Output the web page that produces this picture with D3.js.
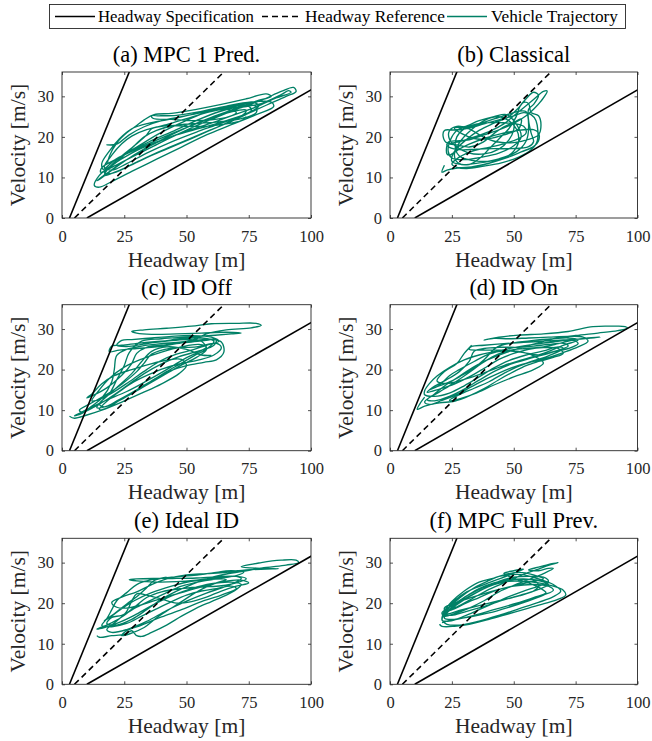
<!DOCTYPE html>
<html>
<head>
<meta charset="utf-8">
<script src="https://cdn.jsdelivr.net/npm/d3@7"></script>
</head>
<body style="margin:0;background:#fff">
<script>
// tick labels and axis ranges
var xTicks = [0, 25, 50, 75, 100];
var yTicks = [0, 10, 20, 30];
var xDomain = [0, 100];
var yDomain = [0, 36];

// headway = gap + timeGap * velocity
var specGap = [3, 10];
var specTime = [0.667, 2.85];
var refGap = [5];
var refTime = [1.667];
var speedRange = [0, 40];

var titles = ["(a) MPC 1 Pred.", "(b) Classical", "(c) ID Off", "(d) ID On", "(e) Ideal ID", "(f) MPC Full Prev."];
var legendNames = ["Headway Specification", "Headway Reference", "Vehicle Trajectory"];

// vehicle trajectories, [headway m, velocity m/s]
var trajA = [[20,18],[18,18],[22,18.2],[27,20.5],[33,22.5],[40,24],[48,25],[56,26],[64,27],[71,27.8],[77,28.5],[79,27.6],[75,26],[66,24],[56,22.2],[46,20.5],[37,18.5],[28,16],[20,13],[15,10.5],[13,8],[15,7.6],[20,9],[28,11.5],[38,14.5],[48,17.5],[58,20.5],[68,23],[78,25.5],[85,27.5],[84,28.6],[76,28.6],[66,27.6],[56,26.3],[46,25.3],[39,25.2],[36,25.2],[36.5,24.6],[44,24.3],[52,24],[60,24.2],[67,25],[70,26],[66,26.8],[57,25.8],[48,23.5],[39,20.8],[30,17.5],[22,14.6],[16,12.4],[15.5,11.3],[20,12.5],[28,15],[37,17.8],[47,20.8],[58,23.8],[70,26.8],[80,29],[88,31.2],[93,32.2],[94,31.2],[90,30],[82,27.8],[72,25],[62,22.3],[52,19.6],[42,17],[33,14.6],[26,12.5],[20,11],[17,11.2],[22,13.8],[28,17.2],[33,20],[38,21.6],[45,22.8],[54,23.3],[63,23.7],[72,24.5],[78,26],[78,27.5],[72,27.8],[62,26.8],[52,25.5],[43,24.3],[35,23.4],[28,22],[23,19.5],[19,16.5],[16,13.5],[16.5,12],[21,14.2],[27,16.3],[35,18.8],[45,21.5],[55,24.3],[63,26.2],[70,27.3],[75,27.5],[76,26.5],[70,24.4],[60,21.8],[50,19.2],[40,16.6],[30,13.8],[22,11.5],[17,10.5],[19,12.5],[24,15.3],[30,18.3],[34,20.5],[36,22],[42,23],[50,24.5],[58,26],[66,27],[74,27.5],[80,28.2],[88,30.4],[91,31.4],
  [92,31],[86,29.6],[78,27.4],[68,25.2],[58,23],[48,21],[38,18.6],[29,15.6],[21,12.2],[15,9.5],[14,9.2],[18,11],[24,13.6],[31,16.2],[40,19.3],[50,22.3],[60,24.8],[70,27],[78,28.8],[84,30],[82,30.6],[74,29.4],[64,28],[54,26.8],[44,25.8],[37,25.5],[33,24.2],[30,22.8],[26,21],[22,18.5],[19,15.2],[18.5,13.5],[23,15],[30,17],[38,19.2],[48,21.8],[58,24.2],[68,26.2],[74,26.6],[73,25.6],[64,23.4],[54,21.2],[44,18.8],[34,16],[26,13.4],[20,11.8],[17,12.5],[20,15.5],[24,18.3],[28,20.2],[34,21.8],[42,22.8],[50,22.6],[58,22.6],[66,23.2],[72,24],[74,25]];

var trajB = [[22,13],[21,11.3],[23,11.8],[28,12.4],[33,12.6],[40,13.5],[47,14.8],[53,16.3],[58,17.6],[60,19],[60,21],[58,21.8],[52,21.6],[45,20.8],[38,19.6],[32,18.2],[28,17],[24,15.5],[23,15.8],[23.5,18.7],[26,19],[32,19.3],[38,20.5],[44,21.7],[50,23.3],[55,25.2],[58,26.8],[61,28.8],[63.5,31.3],[62,31.2],[58,29.2],[54,27.2],[50,25.2],[46,23.2],[40,21.3],[33,19.8],[27,18.7],[23,18.5],[21.5,20],[22,21.6],[26,21.7],[32,22.2],[38,23.2],[44,24.2],[50,25.2],[54,26],[57,25.5],[59,24],[59.5,19],[57,16.8],[52,15],[45,13.6],[38,12.8],[31,12.2],[27,12.5],[25,13.3],[28,15],[34,16.6],[40,17.4],[46,18.3],[52,19.6],[55,21],[54,22.6],[48,23.4],[40,23.5],[34,23],[30,22],[27,20],[26.5,17],[28,15.3],[33,14.2],[40,14],[46,14.8],[50,16.5],[52,19],[51,22],[48,24],[44,25],[39,24.3],[33,21.8],[28,18.5],[26,15.6],[27.5,13.6],[32,13.2],[36,14.6],[40,17],[44,19.5],[48,22],[51,25],[52.5,27.5],[55,29.4],[58,31],[60,30.3],[58,28],[56,26.8],[56,24],[57,21],[58,18.8],[56,17.6],[49,17.1],[42,17.1],[35,17],[29,16.8],[24,17.4],[23,18.2],[27,18],[32,17.5],[37,18.5],[42,20.8],[46,22.5],[50,23.6],[53,24.4],[52,22],[46,20.5],[40,19.6],[34,19.6],[29,20.8],[26,22.2],
  [30,22.5],[36,24],[42,25],[47,25.5],[50,24],[53,20],[50,17.8],[44,16],[37,15],[30,14.4],[25,14.8],[23.5,16.5],[25,20],[28,22],[33,22.6],[40,24],[46,25.2],[52,26.3],[55,26.2],[56,23],[55,19],[51,16.3],[44,14.6],[36,13.6],[29,13.2],[25,14],[26,16.4],[31,19.4],[36,21.6],[42,23.4],[48,25],[52,27.2],[54,28.5],[56,28.2],[57,26],[60,25.2],[61,23],[60,20.5],[56,19.4],[50,18.6],[43,18.8],[37,20.2],[32,22],[27,22.6],[24,21.5],[24,19.5],[27,17.5],[32,16],[38,15.8],[44,17],[48,19.2],[50,21.8],[50,24.5]];

var trajC = [[3,8.5],[5,8],[10,8.8],[16,10],[24,12],[32,14.2],[40,16.5],[47,19],[50,21],[48,22.5],[42,22.3],[35,21.3],[28,20],[21,18.5],[16,16.5],[12,14],[10,13],[12,13.5],[18,15.5],[24,18.6],[28,21.5],[30,24],[34,25.5],[40,26],[46,26.5],[52,26.8],[58,27.2],[62,27.5],[61,26],[55,24.6],[47,23.2],[40,21.4],[33,19],[26,16],[19,13],[13,10.8],[8,9.5],[7,10],[11,11.5],[17,13.5],[24,16.4],[30,19.5],[33,21.6],[36,23.8],[44,25.3],[54,25.6],[62,26.5],[64,25.4],[61,23.6],[55,22.4],[48,21.5],[41,20.3],[35,18.8],[29,17],[24,15],[19,12.7],[15,10.2],[18,10.5],[24,12.8],[30,15],[36,17.2],[42,19.5],[48,21.6],[53,23.4],[58,25],[61,27],[56,27.8],[48,27.6],[40,27],[32,26.6],[24,26],[20,25.8],[19,24.4],[23,24.8],[30,25.2],[38,25.6],[46,26.4],[54,27.2],[60,27.5],[64,26.8],[65,24.3],[62,22.4],[57,21.8],[50,21],[44,19.8],[37,17.6],[30,15],[23,12.6],[17,10.8],[15,11.5],[19,14],[22,17.5],[25,21],[27,24.2],[32,27],[40,27.6],[50,28],[60,28.4],[68,28.8],[72,29],[66,29.2],[56,29],[46,28.8],[36,28.7],[30,29],[28,29.4],[33,29.8],[42,30.2],[52,30.7],[60,31.3],[70,31.4],[78,31.4],[80,30.9],[76,30.3],[66,29.8],[58,28.8],[54,27.6],
  [48,26.8],[40,26.4],[32,25.8],[26,25],[22,23.5],[21,20],[20,17],[16,13],[12,11],[8,9.2],[5,8.6],[7,9.2],[12,10.8],[18,12.5],[26,14.6],[34,17.2],[42,20],[49,22.6],[55,24.4],[58,25.6],[55,26.2],[48,25.6],[40,24.3],[32,22.6],[25,20.6],[19,17.8],[15,15],[12,12.3],[14,12.4],[20,14.2],[27,17],[34,20],[40,22.3],[46,23.8],[52,24.8],[58,26],[63,27],[60,28],[52,28.4],[44,28.2],[36,27.8],[28,27.4],[24,27.2],[22,26],[26,25.7],[34,26.4],[42,27],[50,27.4],[56,27],[58,25],[54,23],[47,20.8],[40,18.3],[32,15.5],[25,13],[19,11.2],[14,10.6],[16,12.3],[22,15.6],[28,19],[32,22],[36,24.5],[42,25.6],[50,25],[56,23.6],[60,23.5]];

var trajD = [[14,13.2],[12,11.5],[11,10.2],[14,11],[20,11.8],[26,12.2],[32,13.5],[38,15.3],[44,17.5],[50,19.5],[55,21],[60,22],[66,23],[70,24],[68,25.2],[62,25.4],[56,25],[50,24],[44,22.5],[38,20.3],[32,18.2],[26,16.4],[20,15.2],[15,14.4],[17,15.5],[22,17.2],[28,19.5],[32,22],[34,24.5],[38,25.2],[45,25.5],[52,25.5],[58,25.8],[64,26.2],[70,26.5],[72,25.8],[66,24.4],[58,23],[50,21.6],[43,19.8],[36,17.4],[30,15.2],[24,13.4],[18,12.3],[15,12.6],[20,14.5],[26,16.8],[32,19.3],[37,21.5],[42,23.3],[48,24.7],[55,25.2],[62,25.6],[68,26.4],[74,27.3],[80,27.8],[85,28],[78,27.6],[70,27.3],[62,27],[54,26.7],[46,26.4],[38,26],[33,25.7],[32,25],[36,24.8],[44,24.8],[52,24.5],[58,23.4],[62,21.6],[58,20],[50,18.2],[42,16.2],[34,14],[27,12.6],[24,12.4],[28,13.8],[34,15.4],[40,17],[47,19.4],[54,21.3],[62,22.6],[70,24.2],[76,25.6],[80,27],[78,28],[72,28.2],[64,28],[56,27.8],[48,27.6],[42,27.7],[38,27.3],[44,28],[52,28.5],[62,28.8],[72,29.4],[82,30.6],[90,30.7],[95,30.6],[96,30.2],[92,29.6],[84,29],[75,28.4],[66,27.6],[60,26.6],[54,25.6],[46,24],[38,22],[31,19.6],[25,17.2],[19,15.8],[16,15],[20,16.2],[24,18.5],[28,20],
  [34,22],[40,23.8],[46,24.6],[54,24.2],[60,23.6],[66,24.4],[72,25.2],[76,26.4],[74,27.2],[66,26.8],[58,26.2],[50,25.4],[42,24.4],[36,23.6],[30,22.4],[24,20.5],[19,18.4],[16,16.6],[14,14.8],[14,13.8],[18,13.4],[24,14.2],[30,16],[36,18.2],[42,20.4],[48,22.2],[55,23.6],[62,24.6],[68,25.6],[70,25.2],[64,23.4],[56,21.8],[48,20.2],[40,18],[33,15.8],[27,13.8],[21,12.4],[16,11.4],[14,12],[18,14],[23,16.4],[28,18.2],[33,20],[38,22.4],[42,25],[45,26],[50,26.6],[58,27.2],[66,27.6],[72,27.8],[76,27.3],[70,26],[62,24],[54,22.5],[46,21],[38,19.2],[30,17.6],[23,16.6],[19,17.2],[22,19.5],[27,21.5],[30,24],[33,26]];

var trajE = [[14,12],[15,11.6],[20,12],[25,12.3],[28,13.2],[30,12],[32,11.8],[36,12.8],[42,14.6],[48,16.8],[54,18.8],[60,20.4],[66,22],[70,23.4],[72,24.6],[68,25.2],[60,24.8],[52,23.6],[44,21.8],[36,19.4],[29,17],[22,15],[17,14],[14,13.6],[18,14.6],[24,16.6],[30,19.5],[34,21.4],[40,22.8],[48,23.6],[56,24],[64,24.3],[70,25],[74,26],[70,26.6],[62,26.3],[54,25.7],[46,25.3],[38,25.2],[30,25.5],[27,25.8],[30,26],[38,26.1],[46,26.1],[54,26.2],[62,26.5],[70,26.6],[72,26],[66,24.2],[58,22.5],[50,20.5],[42,18.2],[34,15.5],[26,13.5],[20,12.8],[18,13.5],[22,15.6],[26,18],[28,20.5],[30,22.3],[34,22],[40,21],[46,20],[52,20.4],[58,21.5],[64,23],[70,24.2],[75,25],[72,25.7],[64,25.2],[56,24],[48,22.6],[40,21.2],[32,19.6],[26,18.8],[22,19],[20,20.2],[24,21.5],[30,22.8],[36,24.6],[42,26],[50,27],[58,27.3],[66,27.6],[74,28.2],[82,28.4],[87,28.5],[80,28.6],[72,29],[80,30],[88,30.6],[94,30.6],[95,30],[90,29.4],[82,28.8],[74,28],[66,27.2],[58,26],[52,24.6],[46,23],[40,21],[34,18.4],[28,16],[22,14.6],[18,15],[20,16.5],
  [24,17],[30,19],[36,20.8],[42,22.6],[48,24.2],[56,25.4],[64,26.2],[70,26.8],[73,27.6],[68,28],[60,27.4],[52,26.8],[44,26.4],[36,25.8],[30,24.6],[26,22.6],[22,20.6],[20,18.4],[18,16.2],[16,14.5],[20,14.2],[26,15],[32,16.8],[38,18.6],[44,20.4],[50,22],[56,23],[62,23.6],[68,24.2],[70,23.6],[64,22],[56,20.4],[48,18.4],[40,16.6],[32,14.6],[26,13.2],[24,12],[27,12.4],[33,14],[38,16.4],[44,18.8],[50,21.2],[56,23.4],[62,25],[66,25.8],[60,25.9],[52,25.4],[44,24.2],[36,22.6],[29,20.6],[23,18.2],[19,16.4],[17,15.7],[21,17.4],[26,19.8],[30,21.6],[34,23.8],[37,25.6],[42,26.4]];

var trajF = [[20,14.8],[21,14.3],[26,14.3],[32,14.8],[40,16],[48,17.4],[56,18.8],[63,20],[68,21],[71,22],[70,23.2],[66,24.2],[60,25],[54,25.4],[48,25.4],[42,24.6],[36,23],[30,21],[25,19],[22,17.2],[21,15.8],[24,15.6],[30,16.8],[36,18.4],[42,20],[48,21.6],[54,23],[60,24.2],[64,25.4],[62,26.4],[56,26.6],[50,26.4],[44,25.4],[38,23.6],[32,21.6],[27,19.6],[23,17.6],[22,16.3],[25,16],[32,16.6],[40,17.6],[48,19],[56,20.6],[62,22],[66,23.2],[64,24.2],[58,24.6],[50,24.2],[42,23],[36,21.4],[30,19.8],[26,18.6],[24,18.2],[28,19.4],[34,21.4],[40,23.4],[46,25],[52,26.6],[56,27.6],[60,28.4],[64,29.3],[68,30],[66,29.8],[60,28.9],[56,28.2],[60,28],[64,28.6],[66,28.6],[62,27.3],[56,25.8],[50,24.4],[44,22.8],[38,20.6],[32,18.8],[26,17.4],[22,16.8],[21,17.6],[25,19.4],[30,21.4],[36,23.4],[42,24.9],[48,25.7],[54,26],[58,25.6],[60,24.4],[58,23],[52,21.8],[44,20.6],[36,19.4],[28,18.2],[23,17.4],[22,18.8],[28,20.4],[36,22],[44,23.4],[52,24.6],[58,25.4],[62,26],[58,27],[52,27.6],[46,27],[42,26.2],
  [36,25.2],[30,23],[25,20.4],[22,18],[21,16],[23,14.8],[28,14.6],[36,15.6],[44,17],[52,18.6],[60,20.2],[66,21.6],[69,23],[66,24.6],[60,26],[54,27],[48,27],[44,26.6],[40,25.6],[34,23.8],[28,21.2],[24,19],[22,17.4],[25,17],[30,17.8],[38,19.2],[46,20.8],[54,22.2],[60,23.4],[64,24.6],[60,25.6],[54,25.9],[48,25.8],[42,25],[36,23.6],[31,21.8],[27,20.2],[24,19.2],[26,20.6],[31,22.8],[38,24.6],[45,26.2],[50,27.4],[54,28.4],[50,28],[46,27.3],[50,26.2],[56,25],[61,23.6],[63,22.6],[58,21.4],[50,19.8],[42,18.4],[34,17],[27,16],[23,15.6],[21,15.2]];

var trajectories = [trajA, trajB, trajC, trajD, trajE, trajF];

// layout
var width = 652, height = 741;
var colX = [62, 390];
var colW = [249, 247.5];
var rowY = [72, 304.7, 538.3];
var plotH = 146;
var green = "#008066";
var axisColor = "#262626";
var serif = "'Liberation Serif'";

var svg = d3.select("body").append("svg")
    .attr("width", width)
    .attr("height", height);

function label(sel) {
    return sel.style("font-family", serif).style("font-weight", "normal");
}

titles.forEach(function(title, i) {
    var col = i % 2, row = Math.floor(i / 2);
    var w = colW[col];
    var x = d3.scaleLinear().domain(xDomain).range([0, w]);
    var y = d3.scaleLinear().domain(yDomain).range([plotH, 0]);

    var g = svg.append("g")
        .attr("transform", "translate(" + colX[col] + "," + rowY[row] + ")");

    g.append("clipPath").attr("id", "clip" + i)
      .append("rect").attr("width", w).attr("height", plotH);

    var plot = g.append("g").attr("clip-path", "url(#clip" + i + ")");

    var line = d3.line()
        .x(function(d) { return x(d[0]); })
        .y(function(d) { return y(d[1]); })
        .curve(d3.curveCatmullRom.alpha(0.5));

    // trajectory
    plot.append("path")
        .datum(trajectories[i])
        .attr("d", line)
        .attr("fill", "none")
        .attr("stroke", green)
        .attr("stroke-width", 1.35)
        .attr("stroke-linejoin", "round");

    // headway lines
    var straight = d3.line()
        .x(function(d) { return x(d[0]); })
        .y(function(d) { return y(d[1]); });

    specGap.forEach(function(gap, k) {
        plot.append("path")
            .datum(speedRange.map(function(v) { return [gap + specTime[k] * v, v]; }))
            .attr("d", straight)
            .attr("stroke", "#000")
            .attr("stroke-width", 1.6)
            .attr("fill", "none");
    });
    plot.append("path")
        .datum(speedRange.map(function(v) { return [refGap[0] + refTime[0] * v, v]; }))
        .attr("d", straight)
        .attr("stroke", "#000")
        .attr("stroke-width", 1.6)
        .attr("stroke-dasharray", "6,4")
        .attr("fill", "none");

    // axes, ticks inside like matlab
    g.append("g").attr("transform", "translate(0," + plotH + ")")
        .call(d3.axisBottom(x).tickValues(xTicks).tickSizeInner(-3).tickSizeOuter(0).tickPadding(12));
    g.append("g")
        .call(d3.axisTop(x).tickValues(xTicks).tickSizeInner(-3).tickSizeOuter(0).tickFormat(""));
    g.append("g")
        .call(d3.axisLeft(y).tickValues(yTicks).tickSizeInner(-3).tickSizeOuter(0).tickPadding(8));
    g.append("g").attr("transform", "translate(" + w + ",0)")
        .call(d3.axisRight(y).tickValues(yTicks).tickSizeInner(-3).tickSizeOuter(0).tickFormat(""));

    g.selectAll(".domain").remove();
    g.selectAll("g").attr("font-family", null).attr("font-size", null);
    g.selectAll(".tick line").attr("stroke", axisColor).attr("stroke-width", 0.8);
    label(g.selectAll(".tick text"))
        .attr("fill", axisColor)
        .style("font-size", "16.5px");

    g.append("rect")
        .attr("width", w).attr("height", plotH)
        .attr("fill", "none")
        .attr("stroke", axisColor)
        .attr("stroke-width", 0.9);

    // labels
    label(g.append("text"))
        .attr("x", w / 2).attr("y", plotH + 48.5)
        .attr("text-anchor", "middle")
        .attr("fill", axisColor)
        .style("font-size", "21.5px")
        .text("Headway [m]");
    label(g.append("text"))
        .attr("transform", "translate(-37," + plotH / 2 + ") rotate(-90)")
        .attr("text-anchor", "middle")
        .attr("fill", axisColor)
        .style("font-size", "21.5px")
        .text("Velocity [m/s]");
    label(g.append("text"))
        .attr("x", w / 2).attr("y", -10)
        .attr("text-anchor", "middle")
        .attr("fill", "#000")
        .style("font-size", "22.5px")
        .text(title);
});

// legend
var legend = svg.append("g");
legend.append("rect")
    .attr("x", 49.5).attr("y", 4.5)
    .attr("width", 576).attr("height", 24)
    .attr("fill", "#fff")
    .attr("stroke", axisColor)
    .attr("stroke-width", 0.9);

var sampleX = [55, 262, 447];
var textX = [98, 305, 491];
var textW = [156, 140, 127];
var sampleStyle = [
    { color: "#000", dash: null },
    { color: "#000", dash: "6,4" },
    { color: green, dash: null }
];
legendNames.forEach(function(name, k) {
    legend.append("line")
        .attr("x1", sampleX[k]).attr("x2", sampleX[k] + 40)
        .attr("y1", 16.5).attr("y2", 16.5)
        .attr("stroke", sampleStyle[k].color)
        .attr("stroke-width", 1.6)
        .attr("stroke-dasharray", sampleStyle[k].dash);
    label(legend.append("text"))
        .attr("x", textX[k]).attr("y", 22)
        .attr("fill", "#000")
        .attr("textLength", textW[k])
        .attr("lengthAdjust", "spacingAndGlyphs")
        .style("font-size", "16.4px")
        .text(name);
});
</script>
</body>
</html>
